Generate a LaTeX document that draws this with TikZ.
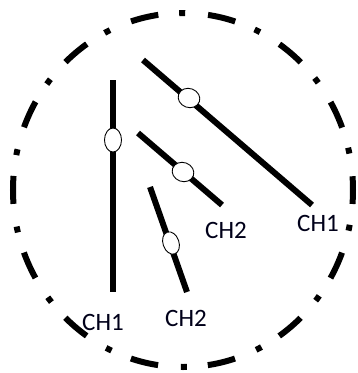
\documentclass[tikz,border=0pt]{standalone}
\usepackage{fontspec}
\setmainfont{Carlito}
\usetikzlibrary{shapes.geometric}
\tikzset{
  rim/.style={line width=6pt, dash pattern=on 28pt off 21pt on 6pt off 22.9pt, dash phase=14pt},
  rod/.style={line width=6pt},
  knob/.style={ellipse, draw=black, fill=white, line width=0.9pt, inner sep=0pt},
  lbl/.style={font=\fontsize{25}{30}\selectfont, text=black!90!blue, inner sep=0pt}
}
\begin{document}
\begin{tikzpicture}[x=1pt,y=-1pt]
\useasboundingbox (0,0) rectangle (357,373);
\draw[rim] (183,190) ellipse [x radius=170, y radius=177];
% vertical CH1
\coordinate (a1) at (113,80);
\coordinate (a2) at (113,292);
\draw[rod] (a1) -- (a2);
\node[knob, minimum width=17pt, minimum height=24pt] (ka) at (113,140) {};
% long diagonal CH1
\coordinate (b1) at (143,60);
\coordinate (b2) at (312,205);
\draw[rod] (b1) -- (b2);
\node[knob, minimum width=22pt, minimum height=19pt, rotate=-20] (kb) at (189,98) {};
% middle diagonal CH2
\coordinate (c1) at (138,133);
\coordinate (c2) at (222,205);
\draw[rod] (c1) -- (c2);
\node[knob, minimum width=22pt, minimum height=19pt, rotate=-20] (kc) at (183,172) {};
% short CH2
\coordinate (d1) at (150,187);
\coordinate (d2) at (187,292);
\draw[rod] (d1) -- (d2);
\node[knob, minimum width=16pt, minimum height=23pt, rotate=19] (kd) at (171,243) {};
% labels
\node[lbl] (l1) at (103,322) {CH1};
\node[lbl] (l2) at (186,318) {CH2};
\node[lbl] (l3) at (226,230) {CH2};
\node[lbl] (l4) at (318,223) {CH1};
\end{tikzpicture}
\end{document}
